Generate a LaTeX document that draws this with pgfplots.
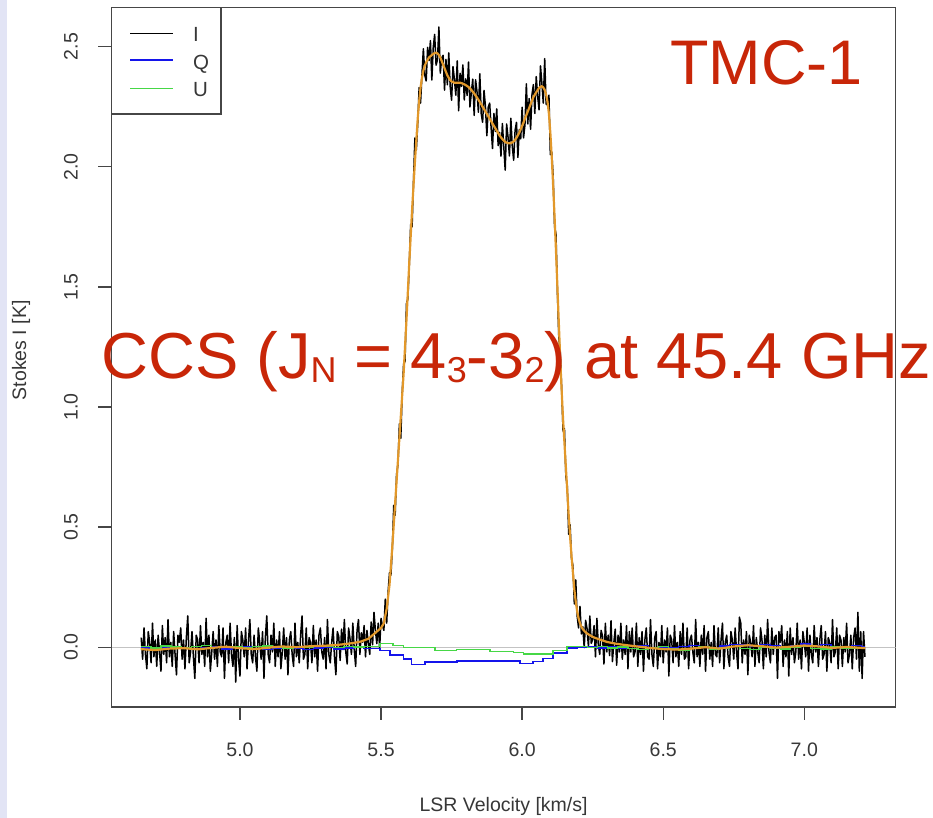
\documentclass[border=0pt]{standalone}
\usepackage{pgfplots}
\pgfplotsset{compat=1.18}
\usepackage{fontspec}
\setmainfont{Liberation Sans}
\definecolor{redtxt}{RGB}{200,38,8}
\definecolor{orangefit}{RGB}{226,152,42}
\definecolor{qblue}{RGB}{20,20,235}
\definecolor{ugreen}{RGB}{70,215,70}
\definecolor{axgray}{RGB}{70,70,70}
\definecolor{txtgray}{RGB}{55,55,55}
\definecolor{zerogray}{RGB}{195,195,195}
\definecolor{slidebg}{RGB}{226,228,245}
\newcommand\sub[1]{\raisebox{-4pt}{\fontsize{36}{36}\selectfont #1}}
\begin{document}
\begin{tikzpicture}[x=1pt,y=1pt]
\useasboundingbox (0,0) rectangle (933,818);
\fill[white] (0,0) rectangle (933,818);
\fill[slidebg] (0,0) rectangle (7,818);
\begin{axis}[
  at={(111.5pt,111pt)}, anchor=south west, scale only axis,
  width=784.2pt, height=699.5pt,
  xmin=4.5447, xmax=7.324, ymin=-0.249, ymax=2.663,
  axis line style={axgray, line width=1.3pt},
  tick style={axgray, line width=1.3pt},
  tick align=outside, major tick length=13pt,
  xtick={5,5.5,6,6.5,7}, ytick={0,0.5,1,1.5,2,2.5},
  xtick pos=bottom, ytick pos=left,
  ticklabel style={font=\fontsize{19.5}{20}\selectfont, text=txtgray, inner sep=0pt},
  xticklabel style={anchor=north, /pgf/number format/.cd, fixed, fixed zerofill, precision=1, assume math mode=true},
  yticklabel style={rotate=90, anchor=south, /pgf/number format/.cd, fixed, fixed zerofill, precision=1, assume math mode=true},
  xticklabel shift=23pt, yticklabel shift=20.5pt,
  xlabel={LSR Velocity [km/s]}, ylabel={Stokes I [K]},
  label style={font=\fontsize{19.5}{20}\selectfont, text=txtgray, inner sep=0pt},
  xlabel style={at={(axis description cs:0.5,-0.14968)}, anchor=base},
  ylabel style={at={(axis description cs:-0.10903,0.51)}, anchor=base},
]
% zero line
\addplot[zerogray, line width=1pt, forget plot] coordinates {(4.5447,0) (7.324,0)};
% Stokes I spectrum
\addplot[black, line width=1.5pt, line join=round] coordinates {
(4.650,0.04)(4.655,-0.05)(4.660,0.08)(4.665,-0.03)(4.670,-0.09)(4.675,0.065)(4.680,0.02)(4.685,-0.065)(4.690,0.10)(4.695,-0.04)
(4.700,0.03)(4.705,-0.08)(4.710,0.05)(4.715,-0.02)(4.720,-0.10)(4.725,0.09)(4.730,-0.03)(4.735,0.04)(4.740,-0.065)(4.745,0.115)
(4.750,-0.04)(4.755,0.02)(4.760,-0.08)(4.765,0.065)(4.770,-0.03)(4.775,-0.115)(4.780,0.05)(4.785,0.02)(4.790,0.08)(4.795,-0.05)
(4.800,0.03)(4.805,-0.09)(4.810,0.04)(4.815,0.13)(4.820,-0.065)(4.825,-0.02)(4.830,0.065)(4.835,-0.04)(4.840,-0.13)(4.845,0.05)
(4.850,0.03)(4.855,-0.065)(4.860,0.09)(4.865,-0.03)(4.870,0.02)(4.875,-0.08)(4.880,0.12)(4.885,-0.04)(4.890,0.05)(4.895,-0.10)
(4.900,-0.02)(4.905,0.065)(4.910,-0.05)(4.915,0.03)(4.920,-0.08)(4.925,0.09)(4.930,-0.02)(4.935,-0.04)(4.940,0.08)(4.945,-0.13)
(4.950,0.02)(4.955,0.05)(4.960,-0.065)(4.965,0.10)(4.970,-0.03)(4.975,-0.08)(4.980,0.04)(4.985,-0.145)(4.990,0.09)(4.995,-0.05)
(5.000,-0.12)(5.005,0.065)(5.010,0.03)(5.015,-0.04)(5.020,0.08)(5.025,-0.09)(5.030,0.02)(5.035,0.115)(5.040,-0.03)(5.045,-0.065)
(5.050,0.05)(5.055,-0.04)(5.060,-0.10)(5.065,0.08)(5.070,0.02)(5.075,-0.05)(5.080,0.065)(5.085,-0.13)(5.090,0.04)(5.095,0.13)
(5.100,-0.03)(5.105,-0.065)(5.110,0.05)(5.115,-0.02)(5.120,0.10)(5.125,-0.08)(5.130,0.03)(5.135,-0.04)(5.140,0.065)(5.145,-0.09)
(5.150,-0.02)(5.155,0.08)(5.160,-0.05)(5.165,0.04)(5.170,-0.115)(5.175,0.03)(5.180,0.065)(5.185,-0.03)(5.190,-0.08)(5.195,0.10)
(5.200,-0.04)(5.205,0.02)(5.210,-0.065)(5.215,0.05)(5.220,0.13)(5.225,-0.05)(5.230,-0.03)(5.235,0.08)(5.240,-0.09)(5.245,0.04)
(5.250,0.02)(5.255,-0.065)(5.260,0.09)(5.265,-0.04)(5.270,0.03)(5.275,-0.10)(5.280,0.05)(5.285,0.08)(5.290,-0.02)(5.295,-0.05)
(5.300,0.04)(5.305,-0.09)(5.310,0.115)(5.315,-0.03)(5.320,-0.065)(5.325,0.02)(5.330,0.08)(5.335,-0.04)(5.340,-0.115)(5.345,0.065)
(5.350,0.045)(5.355,-0.055)(5.360,0.075)(5.365,-0.01)(5.370,0.115)(5.375,-0.02)(5.380,-0.07)(5.385,0.08)(5.390,0.035)(5.395,-0.03)
(5.400,0.10)(5.405,-0.01)(5.410,-0.08)(5.415,0.07)(5.420,0.115)(5.425,-0.03)(5.430,0.06)(5.435,0.02)(5.440,0.09)(5.445,-0.04)
(5.450,0.07)
(5.455,0.015)(5.460,-0.030)(5.465,0.105)(5.470,0.010)(5.475,0.145)(5.480,0.070)(5.485,0.015)(5.490,0.100)(5.495,-0.005)(5.500,0.120)
(5.505,0.090)(5.510,0.070)(5.515,0.200)(5.520,0.100)(5.525,0.230)(5.530,0.310)(5.535,0.300)(5.540,0.410)(5.545,0.590)(5.550,0.550)
(5.555,0.720)(5.560,0.760)(5.565,0.930)(5.570,0.870)(5.575,1.060)(5.580,1.180)(5.585,1.190)(5.590,1.430)(5.595,1.450)(5.600,1.590)
(5.605,1.760)(5.610,1.750)(5.615,1.940)(5.620,2.120)(5.625,2.070)(5.630,2.180)(5.635,2.330)(5.640,2.265)(5.645,2.383)(5.650,2.491)
(5.655,2.381)(5.660,2.357)(5.665,2.497)(5.670,2.442)(5.675,2.525)(5.680,2.361)(5.685,2.496)(5.690,2.551)(5.695,2.423)(5.700,2.446)
(5.705,2.582)(5.710,2.390)(5.715,2.453)(5.720,2.464)(5.725,2.319)(5.730,2.447)(5.735,2.341)(5.740,2.474)(5.745,2.334)(5.750,2.277)
(5.755,2.417)(5.760,2.363)(5.765,2.298)(5.770,2.441)(5.775,2.233)(5.780,2.389)(5.785,2.335)(5.790,2.424)(5.795,2.278)(5.800,2.366)
(5.805,2.297)(5.810,2.436)(5.815,2.249)(5.820,2.307)(5.825,2.365)(5.830,2.214)(5.835,2.362)(5.840,2.314)(5.845,2.227)(5.850,2.387)
(5.855,2.221)(5.860,2.185)(5.865,2.318)(5.870,2.250)(5.875,2.129)(5.880,2.249)(5.885,2.265)(5.890,2.164)(5.895,2.076)(5.900,2.222)
(5.905,2.147)(5.910,2.241)(5.915,2.088)(5.920,2.143)(5.925,2.044)(5.930,2.180)(5.935,2.082)(5.940,1.986)(5.945,2.178)(5.950,2.124)
(5.955,2.045)(5.960,2.202)(5.965,2.087)(5.970,2.027)(5.975,2.151)(5.980,2.185)(5.985,2.039)(5.990,2.155)(5.995,2.116)(6.000,2.248)
(6.005,2.120)(6.010,2.174)(6.015,2.345)(6.020,2.178)(6.025,2.284)(6.030,2.156)(6.035,2.301)(6.040,2.342)(6.045,2.222)(6.050,2.375)
(6.055,2.294)(6.060,2.237)(6.065,2.420)(6.070,2.348)(6.075,2.265)(6.080,2.450)(6.085,2.261)(6.090,2.257)(6.095,2.298)(6.100,2.050)
(6.105,2.060)(6.110,1.960)(6.115,1.750)(6.120,1.720)(6.125,1.480)(6.130,1.290)(6.135,1.230)(6.140,1.080)(6.145,0.900)(6.150,0.910)
(6.155,0.710)(6.160,0.670)(6.165,0.470)(6.170,0.510)(6.175,0.370)(6.180,0.340)(6.185,0.180)(6.190,0.280)(6.195,0.130)(6.200,0.080)
(6.205,0.170)(6.210,0.055)(6.215,0.085)(6.220,-0.002)(6.225,0.112)(6.230,0.077)(6.235,0.003)(6.240,0.130)(6.245,0.016)(6.250,0.033)
(6.255,0.090)(6.260,-0.040)(6.265,0.120)(6.270,0.010)(6.275,-0.030)(6.280,0.070)(6.285,0.045)(6.290,-0.070)(6.295,0.100)(6.300,-0.020)
(6.305,0.050)(6.310,-0.035)(6.315,0.110)(6.320,-0.060)(6.325,0.020)(6.330,0.075)(6.335,-0.075)(6.340,0.050)(6.345,-0.020)
(6.350,0.10)(6.355,-0.05)(6.360,0.03)(6.365,-0.03)(6.370,0.09)(6.375,-0.09)(6.380,0.065)(6.385,-0.02)(6.390,0.08)(6.395,-0.04)
(6.400,-0.02)(6.405,0.10)(6.410,-0.08)(6.415,0.04)(6.420,-0.03)(6.425,0.065)(6.430,-0.10)(6.435,0.03)(6.440,0.08)(6.445,-0.04)
(6.450,-0.05)(6.455,0.115)(6.460,-0.03)(6.465,-0.08)(6.470,0.04)(6.475,0.065)(6.480,-0.09)(6.485,0.02)(6.490,-0.04)(6.495,0.09)
(6.500,-0.065)(6.505,0.03)(6.510,-0.02)(6.515,0.08)(6.520,-0.12)(6.525,0.05)(6.530,0.03)(6.535,-0.065)(6.540,0.09)(6.545,-0.04)
(6.550,0.02)(6.555,-0.08)(6.560,0.065)(6.565,-0.03)(6.570,0.10)(6.575,-0.05)(6.580,-0.04)(6.585,0.08)(6.590,-0.09)(6.595,0.03)
(6.600,0.05)(6.605,-0.02)(6.610,-0.065)(6.615,0.115)(6.620,-0.04)(6.625,0.02)(6.630,-0.08)(6.635,0.05)(6.640,-0.03)(6.645,0.09)
(6.650,-0.10)(6.655,0.04)(6.660,0.065)(6.665,-0.05)(6.670,0.02)(6.675,-0.08)(6.680,0.09)(6.685,-0.03)(6.690,-0.04)(6.695,0.08)
(6.700,-0.065)(6.705,0.03)(6.710,0.10)(6.715,-0.09)(6.720,0.02)(6.725,0.05)(6.730,-0.04)(6.735,-0.08)(6.740,0.065)(6.745,0.03)
(6.750,-0.05)(6.755,0.08)(6.760,-0.02)(6.765,-0.09)(6.770,0.125)(6.775,0.10)(6.780,-0.065)(6.785,0.03)(6.790,-0.03)(6.795,0.065)
(6.800,-0.115)(6.805,0.05)(6.810,0.02)(6.815,-0.04)(6.820,0.09)(6.825,-0.08)(6.830,0.04)(6.835,-0.02)(6.840,-0.065)(6.845,0.08)
(6.850,0.03)(6.855,-0.09)(6.860,0.05)(6.865,-0.04)(6.870,0.115)(6.875,-0.02)(6.880,-0.065)(6.885,0.08)(6.890,-0.03)(6.895,0.04)
(6.900,0.05)(6.905,-0.13)(6.910,0.065)(6.915,0.02)(6.920,0.09)(6.925,-0.08)(6.930,0.03)(6.935,-0.04)(6.940,0.065)(6.945,-0.12)
(6.950,0.08)(6.955,-0.03)(6.960,0.04)(6.965,-0.065)(6.970,-0.02)(6.975,0.10)(6.980,-0.05)(6.985,0.03)(6.990,-0.09)(6.995,0.065)
(7.000,0.02)(7.005,-0.04)(7.010,0.08)(7.015,-0.10)(7.020,0.05)(7.025,-0.03)(7.030,-0.065)(7.035,0.09)(7.040,-0.02)(7.045,0.04)
(7.050,-0.08)(7.055,0.03)(7.060,0.09)(7.065,-0.05)(7.070,-0.03)(7.075,0.065)(7.080,-0.10)(7.085,0.04)(7.090,0.02)(7.095,-0.065)
(7.100,0.115)(7.105,-0.04)(7.110,-0.02)(7.115,0.08)(7.120,-0.09)(7.125,0.05)(7.130,0.03)(7.135,-0.08)(7.140,0.04)(7.145,-0.02)
(7.150,0.10)(7.155,-0.065)(7.160,-0.03)(7.165,0.05)(7.170,-0.09)(7.175,0.04)(7.180,0.08)(7.185,-0.05)(7.190,0.145)(7.195,-0.10)
(7.200,0.065)(7.205,-0.13)(7.210,0.065)(7.215,-0.04)
};
% Stokes Q
\addplot[qblue, line width=1.4pt, const plot mark left] coordinates {
(4.648,-0.004)(4.684,-0.008)(4.720,-0.002)(4.756,0.003)(4.792,-0.006)(4.828,-0.010)(4.864,-0.003)(4.900,0.002)(4.936,-0.007)(4.972,-0.002)
(5.008,0.004)(5.044,-0.005)(5.080,-0.009)(5.116,-0.003)(5.152,0.001)(5.188,-0.006)(5.224,-0.010)(5.260,-0.004)(5.296,0.000)(5.332,-0.007)
(5.368,-0.004)(5.404,0.002)(5.440,-0.005)(5.468,-0.006)
(5.496,-0.013)(5.532,-0.033)(5.579,-0.049)(5.608,-0.072)(5.656,-0.062)(5.769,-0.058)(5.992,-0.068)(6.038,-0.060)(6.074,-0.047)(6.109,-0.025)
(6.159,-0.004)(6.195,-0.002)(6.231,0.002)(6.267,-0.003)(6.303,0.001)(6.339,-0.005)(6.375,0.003)(6.411,0.006)(6.447,-0.002)(6.483,0.001)
(6.519,-0.004)(6.555,0.004)(6.591,0.008)(6.627,0.003)(6.663,-0.003)(6.699,0.005)(6.735,0.012)(6.771,0.009)(6.807,0.004)(6.843,0.011)
(6.879,0.006)(6.915,-0.002)(6.951,0.007)(6.987,0.013)(7.023,0.005)(7.059,0.010)(7.095,0.003)(7.131,-0.001)(7.167,0.006)(7.203,0.002)(7.216,0.002)
};
% Stokes U
\addplot[ugreen, line width=1.4pt, const plot mark left] coordinates {
(4.648,0.002)(4.684,-0.003)(4.720,0.005)(4.756,0.001)(4.792,-0.004)(4.828,0.003)(4.864,0.006)(4.900,-0.002)(4.936,0.001)(4.972,0.004)
(5.008,-0.003)(5.044,0.002)(5.080,0.005)(5.116,0.000)(5.152,-0.004)(5.188,0.003)(5.224,0.001)(5.260,0.006)(5.296,0.002)(5.332,-0.002)
(5.368,0.004)(5.404,0.001)(5.440,0.003)(5.468,0.002)
(5.496,0.016)(5.543,0.007)(5.579,-0.002)(5.691,-0.014)(5.768,-0.009)(5.886,-0.017)(5.969,-0.021)(6.004,-0.028)(6.110,-0.013)
(6.159,0.002)(6.195,0.004)(6.231,-0.002)(6.267,0.003)(6.303,-0.004)(6.339,0.001)(6.375,-0.006)(6.411,-0.010)(6.447,-0.003)(6.483,0.002)
(6.519,-0.008)(6.555,-0.012)(6.591,-0.005)(6.627,0.001)(6.663,-0.007)(6.699,-0.003)(6.735,0.002)(6.771,-0.006)(6.807,-0.009)(6.843,0.000)
(6.879,-0.004)(6.915,-0.008)(6.951,-0.002)(6.987,0.003)(7.023,-0.005)(7.059,-0.007)(7.095,0.001)(7.131,-0.004)(7.167,-0.006)(7.203,-0.003)(7.216,-0.003)
};
% model fit
\addplot[orangefit, line width=2.2pt] coordinates {
(4.648,-0.008)(4.70,-0.012)(4.75,-0.006)(4.80,-0.004)(4.85,-0.009)(4.90,-0.003)(4.95,0.002)(5.00,-0.004)(5.05,-0.008)(5.10,-0.002)
(5.15,0.003)(5.20,0.000)(5.25,0.004)(5.30,0.006)(5.35,0.010)(5.40,0.017)(5.43,0.024)
(5.455,0.035)(5.460,0.040)(5.465,0.045)(5.470,0.050)(5.475,0.055)(5.480,0.060)(5.485,0.065)(5.490,0.070)(5.495,0.075)(5.500,0.080)
(5.505,0.090)(5.510,0.100)(5.515,0.130)(5.520,0.160)(5.525,0.210)(5.530,0.260)(5.535,0.340)(5.540,0.420)(5.545,0.510)(5.550,0.600)
(5.555,0.690)(5.560,0.780)(5.565,0.870)(5.570,0.960)(5.575,1.050)(5.580,1.140)(5.585,1.250)(5.590,1.360)(5.595,1.480)(5.600,1.600)
(5.605,1.710)(5.610,1.820)(5.615,1.920)(5.620,2.020)(5.625,2.110)(5.630,2.200)(5.635,2.270)(5.640,2.330)(5.645,2.370)(5.650,2.400)
(5.655,2.420)(5.660,2.435)(5.665,2.445)(5.670,2.455)(5.675,2.460)(5.680,2.465)(5.685,2.470)(5.690,2.473)(5.695,2.475)(5.700,2.472)
(5.705,2.465)(5.710,2.455)(5.715,2.440)(5.720,2.425)(5.725,2.410)(5.730,2.395)(5.735,2.380)(5.740,2.370)(5.745,2.360)(5.750,2.355)
(5.760,2.350)(5.770,2.350)(5.780,2.350)(5.790,2.346)(5.800,2.340)(5.810,2.332)(5.820,2.320)(5.830,2.305)(5.840,2.288)(5.850,2.270)
(5.860,2.250)(5.870,2.230)(5.880,2.210)(5.890,2.190)(5.900,2.170)(5.910,2.150)(5.920,2.130)(5.930,2.115)(5.940,2.103)(5.950,2.098)
(5.960,2.098)(5.970,2.105)(5.980,2.120)(5.990,2.142)(6.000,2.170)(6.010,2.200)(6.020,2.230)(6.030,2.260)(6.040,2.290)(6.050,2.310)
(6.060,2.328)(6.065,2.333)(6.070,2.335)(6.075,2.330)(6.080,2.320)(6.085,2.300)(6.090,2.270)(6.095,2.220)(6.100,2.140)(6.105,2.040)
(6.110,1.920)(6.115,1.790)(6.120,1.650)(6.125,1.500)(6.130,1.350)(6.135,1.200)(6.140,1.070)(6.145,0.950)(6.150,0.850)(6.155,0.750)
(6.160,0.650)(6.165,0.550)(6.170,0.460)(6.175,0.380)(6.180,0.310)(6.185,0.240)(6.190,0.190)(6.195,0.150)(6.200,0.120)(6.205,0.100)
(6.210,0.085)(6.215,0.075)(6.220,0.068)(6.230,0.057)(6.240,0.050)(6.250,0.043)
(6.26,0.038)(6.28,0.030)(6.30,0.022)(6.33,0.015)(6.36,0.010)(6.40,0.004)(6.45,-0.003)(6.50,-0.008)(6.55,-0.010)(6.60,-0.006)
(6.65,0.000)(6.70,-0.006)(6.75,0.003)(6.80,0.008)(6.85,0.004)(6.90,-0.002)(6.95,0.002)(7.00,0.007)(7.05,0.003)(7.10,-0.003)
(7.15,0.001)(7.216,-0.004)
};
\end{axis}
% legend (R style box)
\draw[axgray, line width=1.3pt, fill=white] (111.5,704) rectangle (221,810.5);
\draw[black, line width=1.3pt] (130,784.7) -- (173,784.7);
\draw[qblue, line width=1.3pt] (130,758) -- (173,758);
\draw[ugreen, line width=1.3pt] (130,729.7) -- (173,729.7);
\node[anchor=base west, inner sep=0, text=txtgray, font=\fontsize{20.5}{21}\selectfont] at (193,776.3) {I};
\node[anchor=base west, inner sep=0, text=txtgray, font=\fontsize{20.5}{21}\selectfont] at (193,748.5) {Q};
\node[anchor=base west, inner sep=0, text=txtgray, font=\fontsize{20.5}{21}\selectfont] at (193,721.3) {U};
% slide annotations
\node[anchor=base west, inner sep=0, text=redtxt, font=\fontsize{63}{63}\selectfont] at (670,733) {TMC-1};
\node[anchor=base west, inner sep=0, text=redtxt, font=\fontsize{65}{65}\selectfont] at (101,439) {CCS (J\sub{N} = 4\sub{3}-3\sub{2}) at 45.4 GHz};
\end{tikzpicture}
\end{document}
